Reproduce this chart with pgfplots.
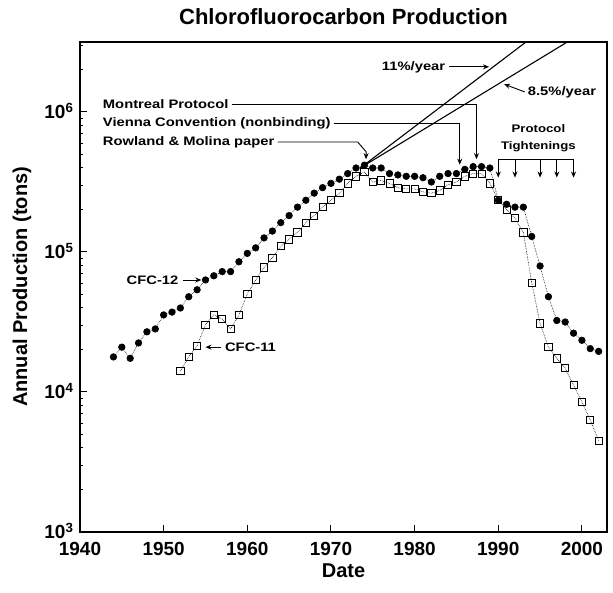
\documentclass[border=0pt]{standalone}
\usepackage{fontspec}
\setmainfont{Liberation Sans}
\newfontfamily\ann{Liberation Sans}[FakeStretch=1.2]
\usepackage{pgfplots}
\pgfplotsset{compat=1.18}
\usetikzlibrary{arrows.meta}

% CFC-12 (filled circles), tons per year
\pgfplotstableread{
year value
1944 17800
1945 20900
1946 17400
1947 22400
1948 26900
1949 28200
1950 35500
1951 37200
1952 39800
1953 47900
1954 53700
1955 63100
1956 67600
1957 72400
1958 72400
1959 85100
1960 97700
1961 107000
1962 126000
1963 141000
1964 162000
1965 182000
1966 209000
1967 234000
1968 263000
1969 288000
1970 309000
1971 331000
1972 363000
1973 398000
1974 417000
1975 398000
1976 398000
1977 363000
1978 355000
1979 347000
1980 347000
1981 339000
1982 316000
1983 347000
1984 363000
1985 363000
1986 389000
1987 407000
1988 407000
1989 398000
1990 234000
1991 219000
1992 209000
1993 209000
1994 129000
1995 79400
1996 47900
1997 32400
1998 31600
1999 26300
2000 23400
2001 20400
2002 19500
}\cfctwelve

% CFC-11 (open squares)
\pgfplotstableread{
year value
1952 14100
1953 17800
1954 21400
1955 30200
1956 35500
1957 33100
1958 28200
1959 35500
1960 50100
1961 63100
1962 77600
1963 91200
1964 110000
1965 123000
1966 138000
1967 162000
1968 182000
1969 209000
1970 234000
1971 263000
1972 309000
1973 347000
1974 372000
1975 316000
1976 324000
1977 309000
1978 288000
1979 282000
1980 282000
1981 269000
1982 263000
1983 275000
1984 302000
1985 316000
1986 347000
1987 363000
1988 363000
1989 309000
1990 234000
1991 200000
1992 174000
1993 138000
1994 60300
1995 30900
1996 20900
1997 17400
1998 14800
1999 11200
2000 8500
2001 6300
2002 4500
}\cfceleven

\begin{document}
\begin{tikzpicture}[font=\bfseries]
\begin{axis}[
    ymode=log,
    width=527pt, height=490pt,
    scale only axis,
    xmin=1940, xmax=2003,
    ymin=1000, ymax=3.16e6,
    xtick={1940,1950,...,2000},
    xticklabel style={/pgf/number format/1000 sep=, anchor=base, yshift=-24pt},
    ytick={1e3,1e4,1e5,1e6},
    yticklabels={10\textsuperscript{3},10\textsuperscript{4},10\textsuperscript{5},10\textsuperscript{6}},
    yticklabel style={anchor=east, xshift=-3pt, yshift=1pt},
    minor ytick={2e3,3e3,4e3,5e3,6e3,7e3,8e3,9e3,2e4,3e4,4e4,5e4,6e4,7e4,8e4,9e4,2e5,3e5,4e5,5e5,6e5,7e5,8e5,9e5,2e6,3e6},
    /pgf/number format/assume math mode=true,
    tick label style={font=\bfseries\fontsize{19}{20}\selectfont},
    xtick pos=bottom, ytick pos=left,
    tick align=inside,
    major tick length=7pt, minor tick length=3pt,
    axis line style={line width=1.6pt},
    every tick/.style={black, line width=1pt},
    title={Chlorofluorocarbon Production},
    title style={font=\bfseries\fontsize{22}{24}\selectfont, at={(0.5,1)}, anchor=base, yshift=11pt},
    xlabel={Date},
    ylabel={Annual Production (tons)},
    label style={font=\bfseries\fontsize{20}{22}\selectfont},
    xlabel style={at={(axis description cs:0.5,0)}, anchor=base, yshift=-46pt},
    ylabel style={at={(axis description cs:-0.11,0.5)}, anchor=center},
    clip=true,
]
% exponential growth lines (11%/year and 8.5%/year)
\addplot[black, line width=1.1pt] coordinates {(1973.5,398000) (2003,8.7e6)};
\addplot[black, line width=1.1pt] coordinates {(1973.5,398000) (2003,4.7e6)};

\addplot[black, line width=0.6pt, densely dotted, mark=*, mark size=3.3pt,
    mark options={solid, fill=black}] table[x=year, y=value] {\cfctwelve};
\addplot[black, line width=0.6pt, densely dotted, mark=square, mark size=3.6pt,
    mark options={solid, line width=0.8pt, fill=white}] table[x=year, y=value] {\cfceleven};

\begin{scope}[every node/.style={font=\ann\bfseries\fontsize{12.3}{14}\selectfont, inner sep=1pt},
    arr/.style={-{Stealth[length=6pt,width=5pt]}, line width=0.9pt}]
\node[anchor=west] (mp) at (axis cs:1942.6,1.14e6) {Montreal Protocol};
\draw[arr] ([xshift=2pt]mp.east) -- (axis cs:1987.4,1.14e6) -- (axis cs:1987.4,4.6e5);
\node[anchor=west] (vc) at (axis cs:1942.6,8.3e5) {Vienna Convention (nonbinding)};
\draw[arr] ([xshift=2pt]vc.east) -- (axis cs:1985.4,8.3e5) -- (axis cs:1985.4,4.2e5);
\node[anchor=west] (rm) at (axis cs:1942.6,6.1e5) {Rowland \& Molina paper};
\draw[arr] ([xshift=2pt]rm.east) -- (axis cs:1973.2,6.1e5) -- (axis cs:1974.2,5.2e5) -- (axis cs:1974.2,4.6e5);

\node[anchor=east] (a11) at (axis cs:1983.8,2.1e6) {11\%/year};
\draw[arr] ([xshift=3pt]a11.east) -- (axis cs:1988.9,2.1e6);
\node[anchor=west] (a85) at (axis cs:1993.4,1.39e6) {8.5\%/year};
\draw[arr] ([xshift=-2pt]a85.west) -- (axis cs:1990.7,1.58e6);

\node[align=center, font=\ann\bfseries\fontsize{11}{17}\selectfont] at (axis cs:1994.8,6.5e5) {Protocol\\Tightenings};
\draw[line width=0.9pt] (axis cs:1990,4.55e5) -- (axis cs:1999,4.55e5);
\draw[arr] (axis cs:1990,4.55e5) -- (axis cs:1990,3.4e5);
\draw[arr] (axis cs:1992,4.55e5) -- (axis cs:1992,3.4e5);
\draw[arr] (axis cs:1995,4.55e5) -- (axis cs:1995,3.4e5);
\draw[arr] (axis cs:1997,4.55e5) -- (axis cs:1997,3.4e5);
\draw[arr] (axis cs:1999,4.55e5) -- (axis cs:1999,3.4e5);

\node[anchor=east] (c12) at (axis cs:1951.9,63100) {CFC-12};
\draw[arr] ([xshift=3pt]c12.east) -- (axis cs:1954.5,63100);
\node[anchor=west] (c11) at (axis cs:1957.2,20900) {CFC-11};
\draw[arr] ([xshift=-3pt]c11.west) -- (axis cs:1955.0,20900);
\end{scope}
\end{axis}
% keep the reference's margins round the axis box
\path (-80pt,-60pt) rectangle (533pt,532pt);
\end{tikzpicture}
\end{document}
